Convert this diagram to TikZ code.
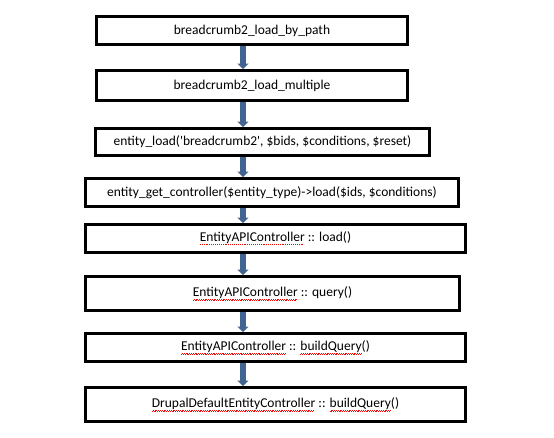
\documentclass[tikz,border=0pt]{standalone}
\usepackage{fontspec}
\setmainfont{Carlito}
\usetikzlibrary{arrows.meta}
\definecolor{arrowblue}{RGB}{66,100,145}
\newsavebox\mywordbox
\newcommand\rwave[1]{\sbox\mywordbox{#1}\mbox{\rlap{\color{red}\leaders\hbox{\rule[-3.4pt]{0.9pt}{0.55pt}\rule[-2.8pt]{0.9pt}{0.55pt}}\hskip\wd\mywordbox}\usebox\mywordbox}}
\newcommand\rdots[1]{\sbox\mywordbox{#1}\mbox{\rlap{\color{red}\leaders\hbox{\rule[-3.2pt]{0.7pt}{0.7pt}\hspace{1.2pt}}\hskip\wd\mywordbox}\usebox\mywordbox}}
\tikzset{
  box/.style={draw=black, line width=3pt, fill=white, inner sep=0pt, align=center,
    font=\fontsize{13.5}{16}\selectfont},
  flow/.style={draw=arrowblue, line width=5.5pt, -{Triangle[width=11pt,length=5.5pt]}}
}
\begin{document}
\begin{tikzpicture}[x=1pt,y=-1pt]
\useasboundingbox[fill=white] (0,0) rectangle (554,437);
\node[box, minimum width=311pt, minimum height=28pt] (b1) at (252,30.5) {breadcrumb2\_load\_by\_path};
\node[box, minimum width=311pt, minimum height=30pt] (b2) at (252,85.5) {breadcrumb2\_load\_multiple};
\node[box, minimum width=334pt, minimum height=27pt] (b3) at (262.5,142) {entity\_load(\textquotesingle breadcrumb2\textquotesingle, \$bids, \$conditions, \$reset)};
\node[box, minimum width=373pt, minimum height=28pt] (b4) at (272,192.5) {entity\_get\_controller(\$entity\_type)->load(\$ids, \$conditions)};
\node[box, minimum width=380pt, minimum height=28pt] (b5) at (275.5,238.5) {\rdots{EntityAPIController} :: load()};
\node[box, minimum width=374pt, minimum height=34pt] (b6) at (272.5,293.5) {\rwave{EntityAPIController} :: query()};
\node[box, minimum width=380pt, minimum height=28pt] (b7) at (275.5,347.5) {\rwave{EntityAPIController} :: \rwave{buildQuery}()};
\node[box, minimum width=380pt, minimum height=34pt] (b8) at (275.5,404.5) {\rwave{DrupalDefaultEntityController} :: \rwave{buildQuery}()};
\coordinate (ax) at (243,0);
\draw[flow] (b1.south -| ax) -- (b2.north -| ax);
\draw[flow] (b2.south -| ax) -- (b3.north -| ax);
\draw[flow] (b3.south -| ax) -- (b4.north -| ax);
\draw[flow] (b4.south -| ax) -- (b5.north -| ax);
\draw[flow] (b5.south -| ax) -- (b6.north -| ax);
\draw[flow] (b6.south -| ax) -- (b7.north -| ax);
\draw[flow] (b7.south -| ax) -- (b8.north -| ax);
\end{tikzpicture}
\end{document}
